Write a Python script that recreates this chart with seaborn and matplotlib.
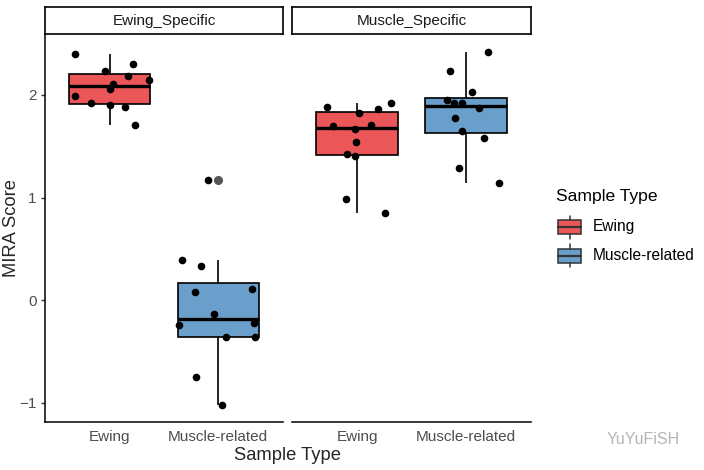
import numpy as np
import pandas as pd
import matplotlib
matplotlib.use("Agg")
import matplotlib.pyplot as plt
import seaborn as sns
from matplotlib.patches import Rectangle

# ---- data ----
facets = ["Ewing_Specific", "Muscle_Specific"]
types = ["Ewing", "Muscle-related"]
ewing_specific_ewing = [2.40, 2.30, 2.23, 2.19, 2.15, 2.11, 2.06, 1.99, 1.92, 1.90, 1.88, 1.71]
ewing_specific_muscle = [1.17, 0.39, 0.33, 0.107, 0.075, -0.14, -0.225, -0.24, -0.364, -0.358, -0.75, -1.02]
muscle_specific_ewing = [1.92, 1.88, 1.82, 1.86, 1.71, 1.665, 1.70, 1.54, 1.42, 1.40, 0.99, 0.85]
muscle_specific_muscle = [2.42, 2.23, 2.03, 1.95, 1.92, 1.92, 1.87, 1.78, 1.645, 1.58, 1.29, 1.145]
y_ticks = [-1, 0, 1, 2]

groups = {
    ("Ewing_Specific", "Ewing"): ewing_specific_ewing,
    ("Ewing_Specific", "Muscle-related"): ewing_specific_muscle,
    ("Muscle_Specific", "Ewing"): muscle_specific_ewing,
    ("Muscle_Specific", "Muscle-related"): muscle_specific_muscle,
}
rows = []
for (f, t), vals in groups.items():
    for v in vals:
        rows.append({"facet": f, "type": t, "score": v})
df = pd.DataFrame(rows)

palette = {"Ewing": "#EB5659", "Muscle-related": "#6A9FCB"}

sns.set_style("white")
plt.rcParams["font.family"] = ["Liberation Sans", "DejaVu Sans"]

W, H = 704, 470
fig = plt.figure(figsize=(W / 100, H / 100), dpi=100)

def fx(px):
    return px / W

def fy(py):
    return 1 - py / H

panel_lr = [(45, 283), (292, 531)]
strip_top, strip_bot, panel_bot = 7, 34, 422

np.random.seed(7)
axes = []
for i, f in enumerate(facets):
    l, r = panel_lr[i]
    ax = fig.add_axes([fx(l), fy(panel_bot), fx(r - l), (panel_bot - strip_bot) / H])
    sub = df[df["facet"] == f]
    sns.boxplot(data=sub, x="type", y="score", hue="type", order=types, hue_order=types,
                palette=palette, saturation=1, width=0.75, linewidth=1.2,
                linecolor="black", showcaps=False, fliersize=5.5,
                flierprops=dict(marker="o", markerfacecolor="#555555",
                                markeredgecolor="#555555"),
                medianprops=dict(linewidth=2.4, color="black"),
                legend=False, ax=ax)
    sns.stripplot(data=sub, x="type", y="score", order=types, color="black",
                  jitter=0.38, size=5.5, linewidth=0, ax=ax)
    ax.set_xlim(-0.6, 1.6)
    ax.set_ylim(-1.19, 2.595)
    ax.set_xlabel("")
    ax.set_ylabel("")
    for s in ["top", "right"]:
        ax.spines[s].set_visible(False)
    ax.spines["bottom"].set_linewidth(1.1)
    ax.spines["bottom"].set_color("black")
    ax.tick_params(axis="x", length=3, width=1, color="#333333",
                   labelcolor="#4D4D4D", labelsize=11, pad=3)
    if i == 0:
        ax.set_yticks(y_ticks)
        ax.spines["left"].set_linewidth(1.1)
        ax.spines["left"].set_color("black")
        ax.tick_params(axis="y", length=3, width=1, color="#333333",
                       labelcolor="#4D4D4D", labelsize=11, pad=3, left=True)
    else:
        ax.spines["left"].set_visible(False)
        ax.set_yticks(y_ticks)
        ax.tick_params(axis="y", left=False, labelleft=False)
    axes.append(ax)

    sax = fig.add_axes([fx(l), fy(strip_bot), fx(r - l), (strip_bot - strip_top) / H])
    sax.set_xticks([])
    sax.set_yticks([])
    for s in sax.spines.values():
        s.set_visible(True)
        s.set_linewidth(1.2)
        s.set_color("black")
    sax.text(0.5, 0.5, f, ha="center", va="center", fontsize=11,
             color="#1A1A1A", transform=sax.transAxes)

fig.text(fx(288), fy(456), "Sample Type", ha="center", va="center", fontsize=13.2)
fig.text(fx(12), fy(228), "MIRA Score", ha="center", va="center",
         rotation=90, fontsize=13.2)

# ---- legend (drawn as a guide in pixel space) ----
lax = fig.add_axes([0, 0, 1, 1], zorder=5)
lax.set_xlim(0, W)
lax.set_ylim(H, 0)
lax.axis("off")
lax.text(556, 197, "Sample Type", ha="left", va="center", fontsize=12.6, color="black")
key_x0, key_w, box_h, whisk = 558, 23, 14, 4.5
for j, t in enumerate(types):
    cy = 227 + j * 28.5
    ec = "#333333"
    lax.add_patch(Rectangle((key_x0, cy - box_h / 2), key_w, box_h,
                            facecolor=palette[t], edgecolor=ec, linewidth=1.1))
    cx = key_x0 + key_w / 2
    lax.plot([cx, cx], [cy - box_h / 2 - whisk, cy - box_h / 2], color=ec, lw=1.1)
    lax.plot([cx, cx], [cy + box_h / 2, cy + box_h / 2 + whisk], color=ec, lw=1.1)
    lax.plot([key_x0, key_x0 + key_w], [cy, cy], color=ec, lw=1.6)
    lax.text(593, cy, t, ha="left", va="center", fontsize=11.2, color="black")

fig.text(fx(607), fy(440), "YuYuFiSH", ha="left", va="center", fontsize=11.5,
         color="#B5B5B5")

fig.savefig("out.png", dpi=100)
